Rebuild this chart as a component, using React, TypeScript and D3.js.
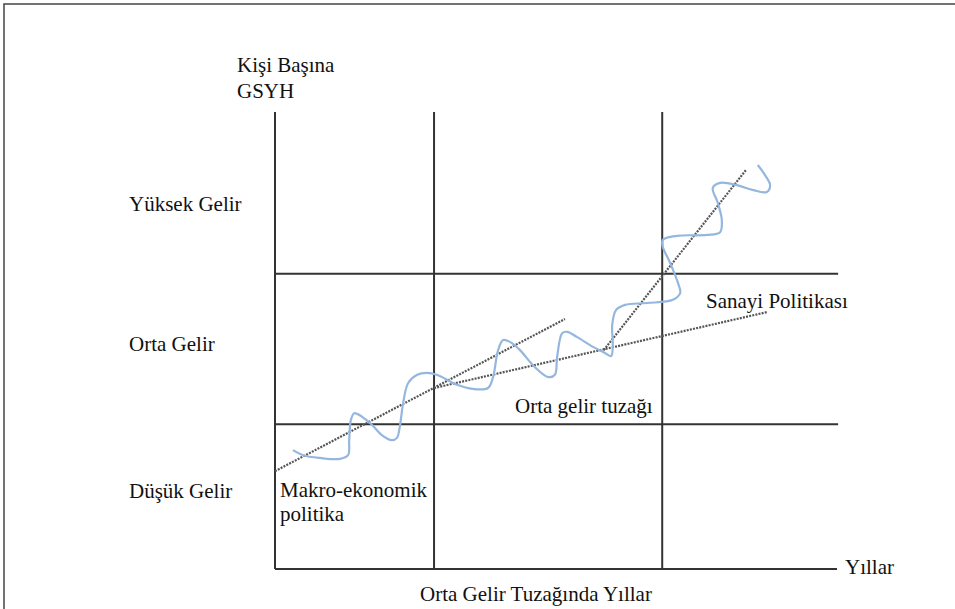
import * as d3 from "d3";
import React from "react";

// conceptual axes: years (x) and GDP per capita (y), both 0..100
const gridX = [28.3, 68.9]; // middle-income trap start / end
const gridY = [31.7, 64.6]; // low / middle / high income thresholds

const bandLabels = ["Düşük Gelir", "Orta Gelir", "Yüksek Gelir"];
const bandLabelY = [15.5, 47.7, 78.3];

// dotted trend lines: [x1, y1, x2, y2]
const trendMacro = [0, 21.4, 51.6, 54.7];
const trendIndustry = [28.3, 39.6, 87.5, 56.2];
const trendExit = [58.5, 47.9, 83.8, 87.3];

// wavy growth path
const waveX = [
  3.2, 5.0, 8.0, 11.6, 13.0, 13.2, 13.5, 14.1, 15.5, 17.3, 19.0, 20.8, 21.7,
  22.2, 22.8, 23.7, 25.3, 27.0, 28.8, 32.4, 35.2, 37.9, 38.8, 39.7, 40.6, 41.8,
  43.6, 45.9, 48.6, 49.8, 50.2, 51.1, 52.0, 53.7, 56.6, 58.4, 59.8, 60.1, 60.0,
  60.7, 62.3, 66.2, 70.8, 72.1, 71.7, 70.3, 69.0, 69.0, 71.5, 76.9, 79.2, 79.5,
  78.8, 77.9, 79.2, 82.2, 85.1, 87.5, 88.1, 87.2, 85.9,
];
const waveY = [
  26.0, 24.9, 24.3, 24.1, 24.9, 28.2, 32.6, 34.1, 33.3, 31.5, 29.3, 28.2, 28.7,
  31.1, 36.3, 40.7, 42.5, 42.9, 42.5, 40.3, 39.4, 39.6, 42.0, 47.9, 50.1, 49.7,
  47.9, 44.6, 42.0, 42.5, 46.4, 51.6, 51.9, 50.8, 48.6, 47.5, 46.6, 49.0, 53.4,
  56.7, 57.8, 58.2, 58.9, 60.4, 62.6, 67.0, 70.5, 72.0, 72.9, 73.1, 73.7, 76.4,
  80.1, 83.4, 84.5, 84.0, 82.9, 82.5, 84.0, 86.2, 88.4,
];

const W = 955;
const H = 609;
const FONT =
  "'Liberation Serif', 'Times New Roman', Times, Tinos, 'Noto Serif', 'DejaVu Serif', FreeSerif, serif";

export default function App() {
  const x = d3.scaleLinear().domain([0, 100]).range([275, 837]);
  const y = d3.scaleLinear().domain([0, 100]).range([569, 112]);

  const wave = d3
    .line<number>()
    .x((_, i) => x(waveX[i]))
    .y((d) => y(d))
    .curve(d3.curveCatmullRom.alpha(0.5));

  const trends = [trendMacro, trendIndustry, trendExit];

  return (
    <div style={{ position: "absolute", left: 0, top: 0 }}>
      <svg width={W} height={H} style={{ display: "block", background: "#fff" }}>
        <rect x={4} y={4} width={1000} height={700} fill="none" stroke="#444" strokeWidth={1.5} />

        {/* axes */}
        <line x1={x(0)} x2={x(0)} y1={y(100)} y2={y(0)} stroke="#333" strokeWidth={2} />
        <line x1={x(0)} x2={x(100)} y1={y(0)} y2={y(0)} stroke="#333" strokeWidth={2} />

        {/* grid */}
        {gridX.map((v, i) => (
          <line key={`gx-${i}`} x1={x(v)} x2={x(v)} y1={y(100)} y2={y(0)} stroke="#333" strokeWidth={2} />
        ))}
        {gridY.map((v, i) => (
          <line key={`gy-${i}`} x1={x(0)} x2={x(100.2)} y1={y(v)} y2={y(v)} stroke="#333" strokeWidth={2} />
        ))}

        {/* dotted trends */}
        {trends.map((t, i) => (
          <line
            key={`tr-${i}`}
            x1={x(t[0])}
            y1={y(t[1])}
            x2={x(t[2])}
            y2={y(t[3])}
            stroke="#555"
            strokeWidth={2.2}
            strokeDasharray="2,1.2"
          />
        ))}

        <path d={wave(waveY) || ""} fill="none" stroke="#95b7df" strokeWidth={2.2} />

        {/* labels */}
        <g fontFamily={FONT} fontSize={21} fill="#111">
          <text x={237} y={72}>Kişi Başına</text>
          <text x={237} y={98}>GSYH</text>
          {bandLabels.map((l, i) => (
            <text key={l} x={129} y={y(bandLabelY[i])}>
              {l}
            </text>
          ))}
          <text x={x(0) + 5} y={497}>Makro-ekonomik</text>
          <text x={x(0) + 5} y={521}>politika</text>
          <text x={515} y={413}>Orta gelir tuzağı</text>
          <text x={706} y={308}>Sanayi Politikası</text>
          <text x={x(100) + 8} y={y(0) + 5}>Yıllar</text>
          <text x={420} y={601}>Orta Gelir Tuzağında Yıllar</text>
        </g>
      </svg>
    </div>
  );
}
